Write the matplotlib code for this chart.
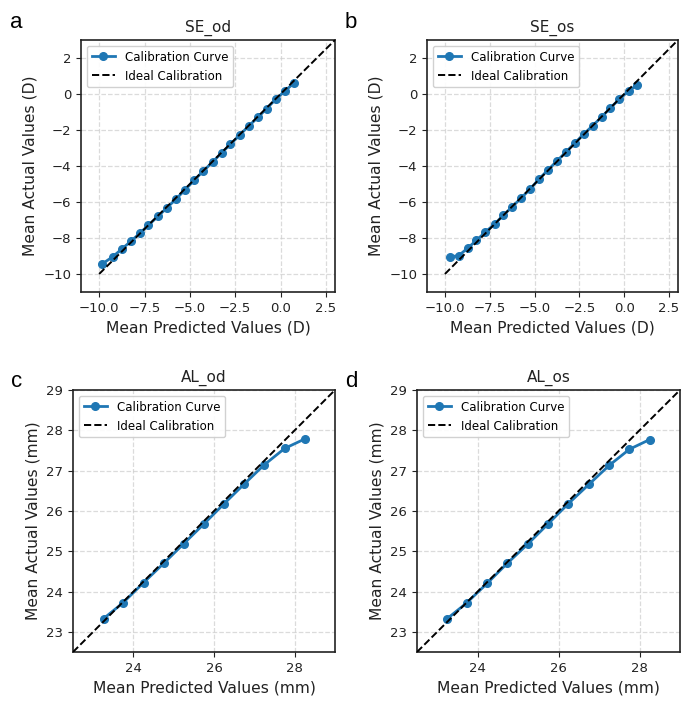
import matplotlib
matplotlib.use("Agg")
import matplotlib.pyplot as plt
import numpy as np

# Refraction (spherical equivalent, D) calibration bins
se_od_pred = [-9.82, -9.26, -8.75, -8.25, -7.76, -7.28, -6.75, -6.25, -5.75, -5.26, -4.76,
              -4.26, -3.75, -3.25, -2.76, -2.26, -1.76, -1.25, -0.77, -0.26, 0.24, 0.75]
se_od_act = [-9.43, -9.05, -8.61, -8.18, -7.74, -7.28, -6.79, -6.31, -5.82, -5.32, -4.79,
             -4.28, -3.78, -3.27, -2.79, -2.29, -1.78, -1.30, -0.81, -0.29, 0.17, 0.62]

se_os_pred = [-9.73, -9.23, -8.74, -8.24, -7.75, -7.23, -6.76, -6.26, -5.75, -5.24, -4.76,
              -4.25, -3.75, -3.26, -2.76, -2.27, -1.76, -1.26, -0.77, -0.27, 0.24, 0.73]
se_os_act = [-9.05, -8.98, -8.57, -8.13, -7.67, -7.23, -6.75, -6.28, -5.78, -5.28, -4.73,
             -4.22, -3.72, -3.23, -2.73, -2.24, -1.76, -1.28, -0.77, -0.29, 0.17, 0.50]

# Axial length (mm) calibration bins
al_od_pred = [23.26, 23.74, 24.25, 24.75, 25.25, 25.74, 26.25, 26.74, 27.24, 27.75, 28.26]
al_od_act = [23.33, 23.72, 24.22, 24.70, 25.19, 25.67, 26.18, 26.66, 27.14, 27.55, 27.79]

al_os_pred = [23.25, 23.73, 24.23, 24.73, 25.24, 25.74, 26.24, 26.75, 27.25, 27.75, 28.25]
al_os_act = [23.33, 23.72, 24.20, 24.70, 25.18, 25.68, 26.18, 26.66, 27.13, 27.53, 27.77]

W, H = 682, 705
fig = plt.figure(figsize=(W / 100, H / 100), dpi=100)


def px_axes(left, right, top, bottom):
    return fig.add_axes([left / W, 1 - bottom / H, (right - left) / W, (bottom - top) / H])


panels = [
    dict(box=(81, 335, 40, 292), pred=se_od_pred, act=se_od_act, title="SE_od", unit="D",
         lim=(-11, 3), ideal=(-10, 3), letter="a", lpos=(10, 28)),
    dict(box=(427, 678, 40, 292), pred=se_os_pred, act=se_os_act, title="SE_os", unit="D",
         lim=(-11, 3), ideal=(-10, 3), letter="b", lpos=(345, 28)),
    dict(box=(73, 335, 390, 652), pred=al_od_pred, act=al_od_act, title="AL_od", unit="mm",
         lim=(22.5, 29), ideal=(22.5, 29), letter="c", lpos=(11, 387)),
    dict(box=(417, 680, 390, 652), pred=al_os_pred, act=al_os_act, title="AL_os", unit="mm",
         lim=(22.5, 29), ideal=(22.5, 29), letter="d", lpos=(345, 387)),
]

for p in panels:
    ax = px_axes(*p["box"])
    ax.plot(p["pred"], p["act"], marker="o", color="#1f77b4", linewidth=2,
            markersize=5.5, label="Calibration Curve", zorder=2)
    ax.plot(p["ideal"], p["ideal"], linestyle="--", color="black", linewidth=1.4,
            label="Ideal Calibration", zorder=3)
    ax.set_xlim(*p["lim"])
    ax.set_ylim(*p["lim"])
    ax.set_title(p["title"], fontsize=11, color="#222222")
    ax.set_xlabel(f"Mean Predicted Values ({p['unit']})", fontsize=11.2, color="#222222")
    ax.set_ylabel(f"Mean Actual Values ({p['unit']})", fontsize=11.2, color="#222222")
    ax.tick_params(labelsize=9.5, colors="#222222")
    ax.grid(True, linestyle="--", color="#cccccc", alpha=0.7, linewidth=0.9)
    for s in ax.spines.values():
        s.set_color("#222222")
        s.set_linewidth(1.2)
    ax.legend(loc="upper left", fontsize=8.5, framealpha=0.9, edgecolor="#cccccc")
    fig.text(p["lpos"][0] / W, 1 - p["lpos"][1] / H, p["letter"], fontsize=16,
             family="Liberation Sans", va="baseline", ha="left")

fig.savefig("out.png", dpi=100)
